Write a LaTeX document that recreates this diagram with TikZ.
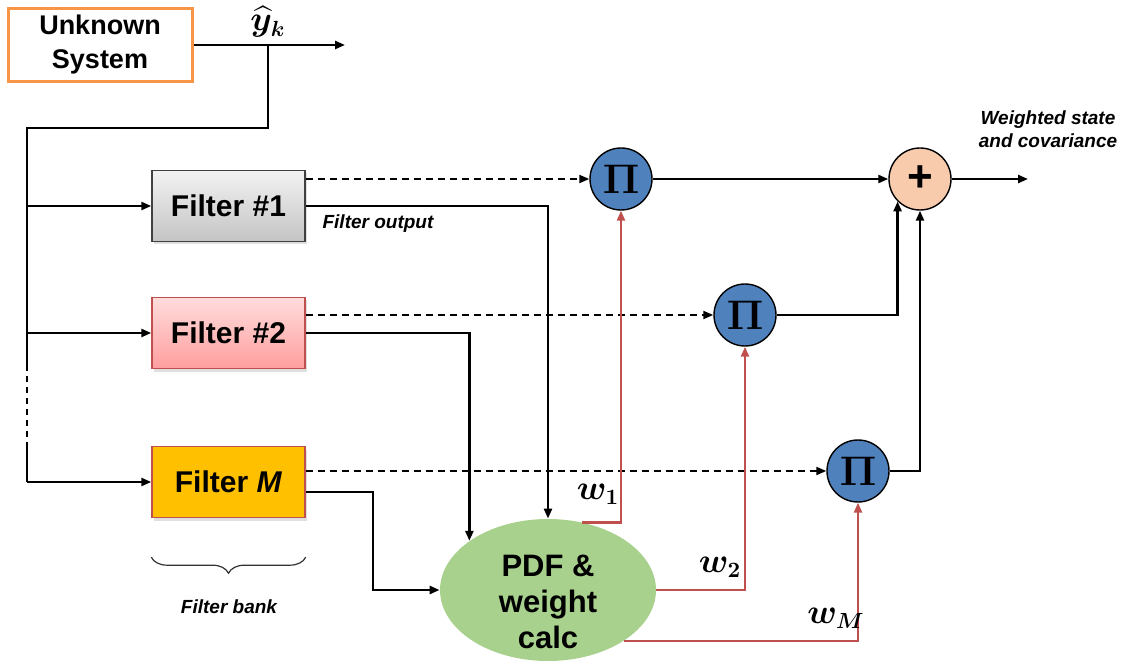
\documentclass[tikz,border=0pt]{standalone}
\usepackage{amsmath}
\usepackage{amssymb}
\usepackage{fontspec}
\setmainfont{Liberation Sans}
\usetikzlibrary{arrows.meta,calc,decorations.pathreplacing,shapes.geometric,shadows}

\definecolor{sysorange}{HTML}{F79646}
\definecolor{grtop}{HTML}{F2F2F2}
\definecolor{grbot}{HTML}{C4C4C4}
\definecolor{pktop}{HTML}{FFDCDC}
\definecolor{pkbot}{HTML}{FF9E9E}
\definecolor{filtred}{HTML}{C0504D}
\definecolor{mgold}{HTML}{FFC000}
\definecolor{piblue}{HTML}{4F81BD}
\definecolor{pdfgreen}{HTML}{A9D18E}
\definecolor{sumpeach}{HTML}{F8CBAD}
\definecolor{wred}{HTML}{C0504D}

\begin{document}
\begin{tikzpicture}[x=0.5pt, y=-0.5pt,
    wire/.style={line width=1.2pt},
    arr/.style={wire, -{Triangle[length=5pt,width=4pt]}},
    dashline/.style={line width=0.9pt, dash pattern=on 3.5pt off 2.5pt, -{Triangle[length=5pt,width=4pt]}},
    warr/.style={line width=1.2pt, color=wred, -{Triangle[length=5pt,width=4pt]}},
    filt/.style={draw, line width=0.7pt, minimum width=76.5pt, minimum height=35.5pt,
        font=\fontsize{15}{18}\selectfont\bfseries,
        drop shadow={shadow xshift=1pt, shadow yshift=-1.5pt, opacity=0.25}},
    mult/.style={circle, draw, line width=0.7pt, fill=piblue, minimum size=31pt, inner sep=0pt,
        font=\fontsize{20}{20}\selectfont},
    note/.style={font=\fontsize{9.5}{11.5}\selectfont\bfseries\itshape, align=center},
    wlab/.style={font=\fontsize{16}{16}\selectfont}]
  \useasboundingbox (0,0) rectangle (1130,663);

  % source and measurement
  \node[draw=sysorange, line width=1.5pt, minimum width=92pt, minimum height=35pt, align=center,
        font=\fontsize{13.5}{17}\selectfont\bfseries] (sys) at (100,45) {Unknown\\System};
  \coordinate (yend) at (345,45);
  \coordinate (tap) at (268,45);
  \draw[arr] (sys.east) -- (yend);
  \node[wlab, anchor=south, inner sep=1pt] (yhat) at (268,40) {$\boldsymbol{\widehat{y}_k}$};

  % filter bank
  \node[filt, top color=grtop, bottom color=grbot, draw=black!75] (f1) at (228.5,206) {Filter \#1};
  \node[filt, top color=pktop, bottom color=pkbot, draw=filtred] (f2) at (228.5,333) {Filter \#2};
  \node[filt, fill=mgold, draw=filtred] (fM) at (228.5,482) {Filter \textit{M}};

  \coordinate (busT) at (27,128);
  \coordinate (gapA) at (27,365);
  \coordinate (gapB) at (27,444);
  \draw[wire] (tap) |- (busT) -- (gapA);
  \draw[wire, dash pattern=on 3pt off 2.5pt] (gapA) -- (gapB);
  \draw[wire] (gapB) -- (busT |- fM.west);
  \foreach \f in {f1,f2,fM}
    \draw[arr] (busT |- \f.west) -- (\f.west);

  \draw[decorate, decoration={brace, mirror, amplitude=8pt}, line width=0.6pt, black!80]
    ($(fM.south west)+(0,39)$) -- ($(fM.south east)+(0,39)$);
  \node[note] (bank) at (229,607) {Filter bank};

  % weighting
  \node[ellipse, fill=pdfgreen, minimum width=108pt, minimum height=71pt, inner sep=0pt,
        label={[align=center, font=\fontsize{15.5}{18}\selectfont\bfseries, yshift=-6pt]center:PDF \&\\weight\\calc}]
        (pdf) at (548,590) {};

  \node[mult] (p1) at (621,179) {$\boldsymbol{\Pi}$};
  \node[mult] (p2) at (745,315) {$\boldsymbol{\Pi}$};
  \node[mult] (pM) at (858,471) {$\boldsymbol{\Pi}$};
  \node[circle, draw, line width=0.7pt, fill=sumpeach, minimum size=31pt, inner sep=0pt,
        font=\fontsize{22}{22}\selectfont\bfseries] (sum) at (920,179) {+};

  \draw[dashline] (f1.east |- p1.west) -- (p1.west);
  \draw[dashline] (f2.east |- p2.west) -- (p2.west);
  \draw[dashline] (fM.east |- pM.west) -- (pM.west);

  \draw[arr] (f1.east) -| (pdf.north);
  \draw[arr] (f2.east) -| (pdf.148);
  \draw[arr] ($(fM.east)+(0,10)$) -- ++(67,0) |- (pdf.west);
  \node[note] (fout) at (378,224) {Filter output};

  \draw[warr] (pdf.63) -| (p1.south);
  \draw[warr] (pdf.east) -| (p2.south);
  \draw[warr] (pdf.-34) -| (pM.south);
  \node[wlab] (w1) at (598,494) {$\boldsymbol{w_1}$};
  \node[wlab] (w2) at (720,567) {$\boldsymbol{w_2}$};
  \node[wlab] (wM) at (836,618) {$\boldsymbol{w_M}$};

  % combination
  \coordinate (out) at (1028,179);
  \draw[arr] (p1.east) -- (sum.west);
  \draw[arr] (p2.east) -| (sum.225);
  \draw[arr] (pM.east) -| (sum.south);
  \draw[arr] (sum.east) -- (out);
  \node[note] (wsc) at (1048,129) {Weighted state\\and covariance};
\end{tikzpicture}
\end{document}
